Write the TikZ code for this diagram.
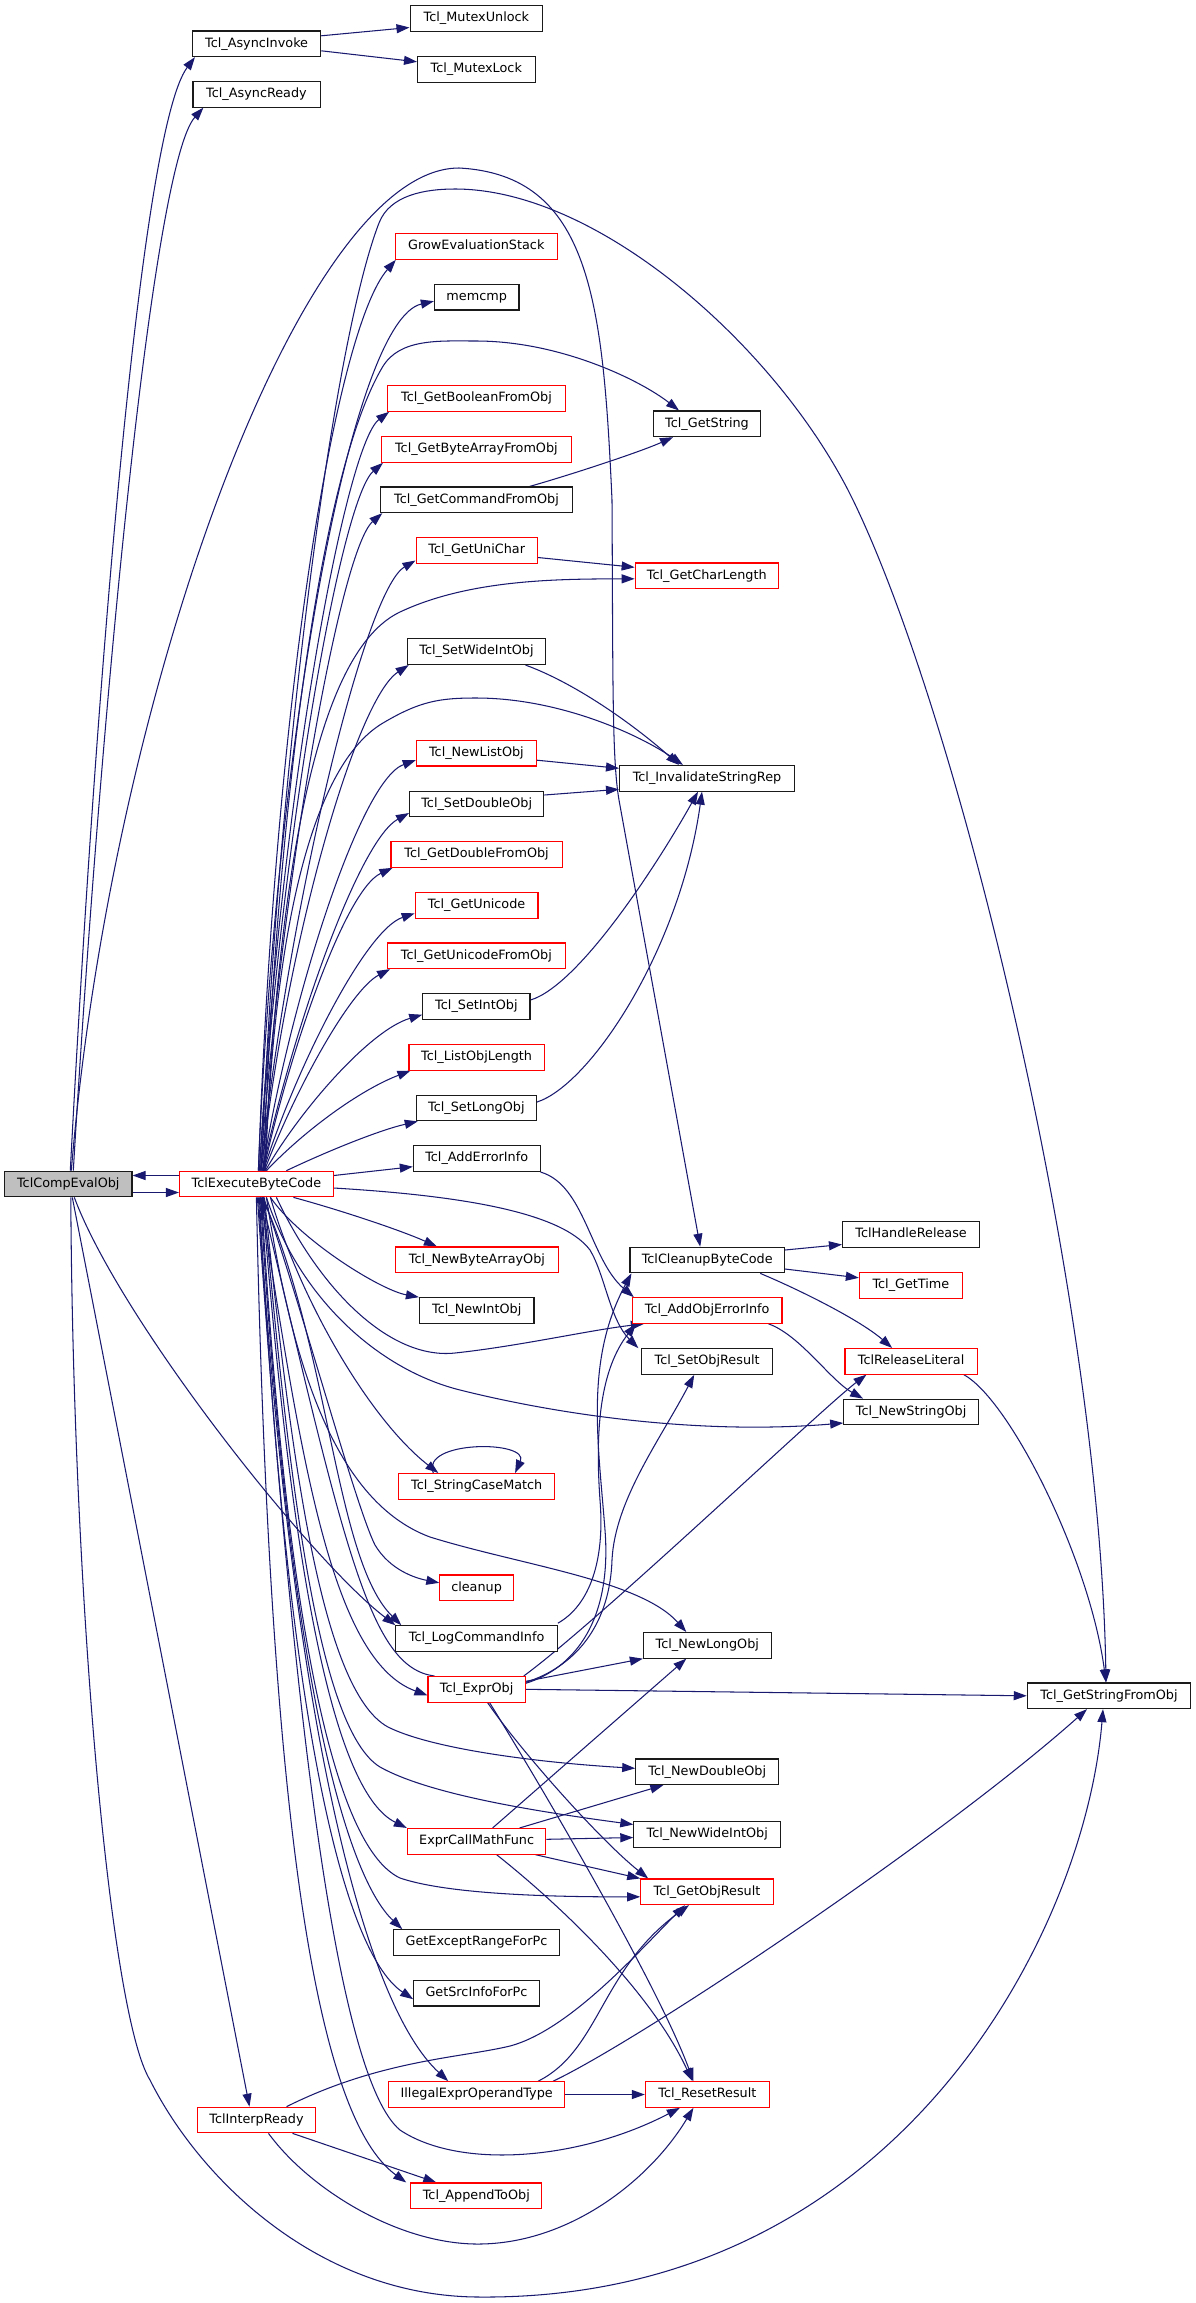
\documentclass[tikz,border=0pt]{standalone}
\usepackage{fontspec}
\setmainfont{DejaVu Sans}
\usetikzlibrary{arrows.meta,backgrounds}
\definecolor{edgeblue}{HTML}{191970}
\definecolor{nodered}{HTML}{FF0000}
\definecolor{nodegrey}{HTML}{BFBFBF}
\definecolor{nodeblack}{HTML}{1A1A1A}
\begin{document}
\begin{tikzpicture}[x=1pt,y=-1pt,
  bbox/.style={draw=nodeblack, line width=1.1pt, fill=white, minimum height=25.6pt,
    inner xsep=2pt, inner ysep=0pt, text height=9.4pt, text depth=3pt,
    font=\fontsize{12.8pt}{15pt}\selectfont, anchor=center},
  rbox/.style={bbox, draw=nodered},
  gbox/.style={bbox, fill=nodegrey},
  edge/.style={draw=edgeblue, line width=1.05pt, -{Triangle[length=13pt,width=9pt]}}]
\useasboundingbox (0,0) rectangle (1196,2303);
% column 0 and 1
\node[gbox, minimum width=127.4pt] (cmp) at (68.3,1184) {TclCompEvalObj};
\node[rbox, minimum width=153.8pt] (exe) at (256.4,1184) {TclExecuteByteCode};
\node[bbox, minimum width=128.2pt] (ainv) at (256.6,43.8) {Tcl\_AsyncInvoke};
\node[bbox, minimum width=127.1pt] (ardy) at (256.5,94.3) {Tcl\_AsyncReady};
\node[rbox, minimum width=118.5pt] (irdy) at (256.5,2120) {TclInterpReady};
% column 2
\node[bbox, minimum width=132.7pt] (mu) at (476.4,18.5) {Tcl\_MutexUnlock};
\node[bbox, minimum width=117.5pt] (ml) at (476.3,69.3) {Tcl\_MutexLock};
\node[rbox, minimum width=161.9pt] (grow) at (476.3,246.5) {GrowEvaluationStack};
\node[bbox, minimum width=84.6pt] (memcmp) at (476.7,297.2) {memcmp};
\node[rbox, minimum width=177.6pt] (gbool) at (476.5,398.5) {Tcl\_GetBooleanFromObj};
\node[rbox, minimum width=189.8pt] (gba) at (476.4,449.5) {Tcl\_GetByteArrayFromObj};
\node[bbox, minimum width=191.3pt] (gcmd) at (476.5,499.8) {Tcl\_GetCommandFromObj};
\node[rbox, minimum width=121.3pt] (guc) at (476.7,550.5) {Tcl\_GetUniChar};
\node[bbox, minimum width=138.5pt] (swi) at (476.5,651.7) {Tcl\_SetWideIntObj};
\node[rbox, minimum width=120.2pt] (nl) at (476.4,753.2) {Tcl\_NewListObj};
\node[bbox, minimum width=134.3pt] (sd) at (476.7,804) {Tcl\_SetDoubleObj};
\node[rbox, minimum width=171.2pt] (gd) at (476.6,854.5) {Tcl\_GetDoubleFromObj};
\node[rbox, minimum width=122.8pt] (gu) at (476.6,905.3) {Tcl\_GetUnicode};
\node[rbox, minimum width=177.6pt] (guo) at (476.4,955.8) {Tcl\_GetUnicodeFromObj};
\node[bbox, minimum width=107.2pt] (si) at (476.4,1006.7) {Tcl\_SetIntObj};
\node[rbox, minimum width=135.2pt] (lol) at (476.6,1057.3) {Tcl\_ListObjLength};
\node[bbox, minimum width=120.2pt] (sl) at (476.4,1108) {Tcl\_SetLongObj};
\node[bbox, minimum width=126.7pt] (aei) at (476.7,1158.7) {Tcl\_AddErrorInfo};
\node[rbox, minimum width=163.1pt] (nba) at (476.9,1259.8) {Tcl\_NewByteArrayObj};
\node[bbox, minimum width=114.5pt] (nint) at (476.7,1310.5) {Tcl\_NewIntObj};
\node[rbox, minimum width=155.7pt] (scm) at (476.7,1486.3) {Tcl\_StringCaseMatch};
\node[rbox, minimum width=73.5pt] (cl) at (476.6,1587.8) {cleanup};
\node[bbox, minimum width=161.5pt] (lci) at (476.6,1638.5) {Tcl\_LogCommandInfo};
\node[rbox, minimum width=97.2pt] (eo) at (476.6,1689.3) {Tcl\_ExprObj};
\node[rbox, minimum width=138.5pt] (ecmf) at (476.6,1841.3) {ExprCallMathFunc};
\node[bbox, minimum width=165.4pt] (ger) at (476.5,1942.5) {GetExceptRangeForPc};
\node[bbox, minimum width=125.6pt] (gsi) at (476.5,1993.2) {GetSrcInfoForPc};
\node[rbox, minimum width=175.8pt] (iex) at (476.7,2094.5) {IllegalExprOperandType};
\node[rbox, minimum width=131pt] (ato) at (476.3,2195.8) {Tcl\_AppendToObj};
% column 3
\node[bbox, minimum width=107.1pt] (gs) at (707,423.8) {Tcl\_GetString};
\node[rbox, minimum width=143.2pt] (gcl) at (706.8,575.8) {Tcl\_GetCharLength};
\node[bbox, minimum width=174.9pt] (inv) at (707,778.3) {Tcl\_InvalidateStringRep};
\node[bbox, minimum width=154.4pt] (tcbc) at (707.2,1260) {TclCleanupByteCode};
\node[rbox, minimum width=149.6pt] (aoei) at (707.2,1310.5) {Tcl\_AddObjErrorInfo};
\node[bbox, minimum width=130.6pt] (sor) at (707.2,1361.5) {Tcl\_SetObjResult};
\node[bbox, minimum width=127.8pt] (nlo) at (707.3,1645.3) {Tcl\_NewLongObj};
\node[bbox, minimum width=143.1pt] (ndo) at (707.3,1771.8) {Tcl\_NewDoubleObj};
\node[bbox, minimum width=146.9pt] (nwi) at (707.3,1834.5) {Tcl\_NewWideIntObj};
\node[rbox, minimum width=132.5pt] (gor) at (707,1891.8) {Tcl\_GetObjResult};
\node[rbox, minimum width=124pt] (rr) at (707.4,2094.5) {Tcl\_ResetResult};
% column 4 and 5
\node[bbox, minimum width=137.2pt] (thr) at (911.1,1234.5) {TclHandleRelease};
\node[rbox, minimum width=103pt] (gt) at (910.9,1285.3) {Tcl\_GetTime};
\node[rbox, minimum width=132.3pt] (trl) at (911.1,1361.3) {TclReleaseLiteral};
\node[bbox, minimum width=134.7pt] (nso) at (911.1,1412) {Tcl\_NewStringObj};
\node[bbox, minimum width=163.4pt] (gsfo) at (1109,1695.8) {Tcl\_GetStringFromObj};

\begin{scope}[on background layer]
\fill[white] (0,0) rectangle (1196,2303);
% TclCompEvalObj
\draw[edge] ([xshift=2pt]cmp.north) .. controls (95,700) and (140,130) .. ([xshift=3pt]ainv.south west);
\draw[edge] ([xshift=5pt]cmp.north) .. controls (100,720) and (152,165) .. ([xshift=11pt]ardy.south west);
\draw[edge] ([yshift=-8.5pt]cmp.east) -- ([yshift=-8.5pt]exe.west);
\draw[edge] ([yshift=8.5pt]exe.west) -- ([yshift=8.5pt]cmp.east);
\draw[edge] ([xshift=4pt]cmp.south) -- ([xshift=-7pt]irdy.north);
\draw[edge] ([xshift=6pt]cmp.south) .. controls (120,1320) and (310,1560) .. (lci.north west);
\draw[edge] ([xshift=2.5pt]cmp.south) .. controls (73,1600) and (110,2015) .. (150,2080) .. controls (200,2180) and (320,2297) .. (480,2297) .. controls (900,2300) and (1085,1930) .. ([xshift=-6pt]gsfo.south);
\draw[edge] ([xshift=3pt]cmp.north) .. controls (110,700) and (300,168) .. (459,168) .. controls (590,175) and (603,300) .. (612,500) .. controls (613,680) and (612,760) .. (619,800) -- ([xshift=-7pt]tcbc.north);
% TclExecuteByteCode, upward
\draw[edge] ([xshift=5pt]exe.north) .. controls (275,800) and (330,350) .. (379,223) .. controls (389.8,195) and (425,189) .. (455,189) .. controls (600,189) and (780,350) .. (853,500) .. controls (960,720) and (1100,1300) .. ([xshift=-3pt]gsfo.north);
\draw[edge] ([xshift=7pt]exe.north) .. controls (275,850) and (315,480) .. (382.7,366.7) .. controls (400,338) and (440,341) .. (476,341) .. controls (560,341) and (640,380) .. ([xshift=-28pt]gs.north);
\draw[edge] ([xshift=9pt]exe.north) .. controls (275,900) and (320,760) .. (383,723) .. controls (420,701) and (440,698) .. (476,698) .. controls (560,698) and (640,735) .. ([xshift=-24pt]inv.north);
\draw[edge] ([xshift=8pt]exe.north) .. controls (280,850) and (320,650) .. (400,612) .. controls (470,579) and (560,579) .. ([yshift=-3pt]gcl.west);
\draw[edge] ([xshift=2pt]exe.north) .. controls (275,700) and (335,330) .. ([xshift=1pt]grow.south west);
\draw[edge] ([xshift=2pt]exe.north) .. controls (275,750) and (350,320) .. ([yshift=-4pt]memcmp.west);
\draw[edge] ([xshift=3pt]exe.north) .. controls (280,800) and (345,445) .. ([xshift=2pt]gbool.south west);
\draw[edge] ([xshift=3pt]exe.north) .. controls (280,850) and (340,500) .. ([xshift=2pt]gba.south west);
\draw[edge] ([xshift=4pt]exe.north) .. controls (282,880) and (340,550) .. ([xshift=2pt]gcmd.south west);
\draw[edge] ([xshift=4pt]exe.north) .. controls (290,900) and (365,590) .. ([yshift=-10pt]guc.west);
\draw[edge] ([xshift=5pt]exe.north) .. controls (285,950) and (355,700) .. ([xshift=2pt]swi.south west);
\draw[edge] ([xshift=6pt]exe.north) .. controls (290,1000) and (360,780) .. ([yshift=-7pt]nl.west);
\draw[edge] ([xshift=6pt]exe.north) .. controls (295,1020) and (360,840) .. ([yshift=-9pt]sd.west);
\draw[edge] ([xshift=7pt]exe.north) .. controls (290,1050) and (345,890) .. ([xshift=2pt]gd.south west);
\draw[edge] ([xshift=7pt]exe.north) .. controls (295,1070) and (365,930) .. ([yshift=-8pt]gu.west);
\draw[edge] ([xshift=8pt]exe.north) .. controls (295,1090) and (350,990) .. ([xshift=3pt]guo.south west);
\draw[edge] ([xshift=9pt]exe.north) .. controls (300,1110) and (370,1030) .. ([yshift=-8pt]si.west);
\draw[edge] ([xshift=10pt]exe.north) .. controls (305,1130) and (360,1090) .. ([xshift=2pt]lol.south west);
\draw[edge] ([xshift=30pt]exe.north) .. controls (330,1150) and (380,1130) .. ([xshift=2pt]sl.south west);
\draw[edge] ([yshift=8.5pt]exe.east) -- ([yshift=-8pt]aei.west);
% TclExecuteByteCode, rightward and downward
\draw[edge] ([yshift=-4pt]exe.east) .. controls (450,1195) and (560,1210) .. (590,1250) .. controls (605,1275) and (610,1320) .. ([xshift=-3pt]sor.north west);
\draw[edge] ([xshift=37pt]exe.south) .. controls (340,1210) and (400,1230) .. ([xshift=-40pt]nba.north);
\draw[edge] ([xshift=14pt]exe.south) .. controls (300,1240) and (380,1290) .. (nint.north west);
\draw[edge] ([xshift=20pt]exe.south) .. controls (320,1290) and (390,1360) .. (455,1353) .. controls (520,1346) and (590,1330) .. ([xshift=12pt]aoei.south west);
\draw[edge] ([xshift=10pt]exe.south) .. controls (300,1300) and (380,1370) .. (460,1390) .. controls (560,1415) and (700,1435) .. ([yshift=-11pt]nso.west);
\draw[edge] ([xshift=14pt]exe.south) .. controls (300,1300) and (370,1420) .. ([xshift=40pt]scm.north west);
\draw[edge] ([xshift=35pt]scm.north west) .. controls (420,1440) and (530,1440) .. ([xshift=-40pt]scm.north east);
\draw[edge] ([xshift=7pt]exe.south) .. controls (300,1300) and (355,1505) .. (375,1545) .. controls (390,1570) and (415,1578) .. ([yshift=5pt]cl.west);
\draw[edge] ([xshift=6pt]exe.south) .. controls (330,1350) and (335,1560) .. ([xshift=6pt]lci.north west);
\draw[edge] ([xshift=4pt]exe.south) .. controls (300,1450) and (330,1660) .. ([yshift=-6pt]eo.west);
\draw[edge] ([xshift=7pt]eo.north west) .. controls (370,1668) and (345,1550) .. ([xshift=5pt]exe.south);
\draw[edge] ([xshift=10pt]exe.south) .. controls (290,1350) and (330,1500) .. (430,1537) .. controls (520,1565) and (640,1580) .. ([xshift=-21pt]nlo.north);
\draw[edge] ([xshift=8pt]exe.south) .. controls (290,1450) and (320,1690) .. (388,1727) .. controls (430,1748) and (530,1762) .. ([yshift=3.5pt]ndo.west);
\draw[edge] ([xshift=7pt]exe.south) .. controls (290,1500) and (320,1730) .. (380,1767) .. controls (430,1795) and (540,1812) .. ([yshift=10pt]nwi.west);
\draw[edge] ([xshift=6pt]exe.south) .. controls (290,1550) and (330,1790) .. (ecmf.north west);
\draw[edge] ([xshift=5pt]exe.south) .. controls (285,1600) and (330,1845) .. (400,1878) .. controls (450,1895) and (560,1897) .. ([yshift=-5pt]gor.west);
\draw[edge] ([xshift=4pt]exe.south) .. controls (290,1700) and (350,1880) .. ([xshift=9pt]ger.north west);
\draw[edge] ([xshift=3pt]exe.south) .. controls (285,1700) and (340,1950) .. ([yshift=-6pt]gsi.west);
\draw[edge] ([xshift=2pt]exe.south) .. controls (290,1700) and (360,2000) .. ([xshift=60pt]iex.north west);
\draw[edge] ([xshift=1pt]exe.south) .. controls (295,1750) and (340,2080) .. (400,2130) .. controls (460,2170) and (580,2160) .. ([xshift=35pt]rr.south west);
\draw[edge] (exe.south) .. controls (270,1850) and (320,2120) .. ([xshift=-4pt]ato.north west);
% column 1 and 2 callees
\draw[edge] ([yshift=8pt]ainv.east) -- ([yshift=-9pt]mu.west);
\draw[edge] ([yshift=-7pt]ainv.east) -- ([yshift=7.5pt]ml.west);
\draw[edge] ([xshift=53pt]gcmd.north) .. controls (570,475) and (640,452) .. ([xshift=-34pt]gs.south);
\draw[edge] ([yshift=-7pt]guc.east) -- ([yshift=8.5pt]gcl.west);
\draw[edge] ([xshift=49pt]swi.south) .. controls (580,685) and (640,730) .. ([xshift=-28pt]inv.north);
\draw[edge] ([yshift=-7pt]nl.east) -- ([yshift=10pt]inv.west);
\draw[edge] ([yshift=9pt]sd.east) -- ([yshift=-11pt]inv.west);
\draw[edge] ([yshift=6.7pt]si.east) .. controls (580,985) and (660,860) .. ([xshift=-9pt]inv.south);
\draw[edge] ([yshift=6pt]sl.east) .. controls (590,1085) and (680,950) .. ([xshift=-5pt]inv.south);
\draw[edge] (aei.south east) .. controls (585,1185) and (590,1260) .. ([xshift=2pt]aoei.north west);
\draw[edge] ([yshift=2pt]lci.north east) .. controls (590,1605) and (605,1560) .. (600,1500) .. controls (595,1430) and (600,1370) .. ([xshift=4pt]aoei.south west);
% Tcl_ExprObj
\draw[edge] ([yshift=6pt]eo.east) .. controls (575,1668) and (612,1620) .. (605,1530) .. controls (598,1440) and (585,1360) .. ([xshift=2pt]tcbc.south west);
\draw[edge] ([yshift=7pt]eo.east) .. controls (580,1665) and (610,1620) .. (612,1560) .. controls (615,1500) and (660,1440) .. ([xshift=-13pt]sor.south);
\draw[edge] ([xshift=-2pt]eo.north east) .. controls (600,1620) and (820,1410) .. ([xshift=22pt]trl.south west);
\draw[edge] ([yshift=8pt]eo.east) -- (nlo.south west);
\draw[edge] (eo.east) -- (gsfo.west);
\draw[edge] ([xshift=11pt]eo.south) .. controls (520,1750) and (600,1840) .. ([xshift=8pt]gor.north west);
\draw[edge] ([xshift=13pt]eo.south) .. controls (550,1800) and (660,1990) .. ([xshift=-14pt]rr.north);
% ExprCallMathFunc
\draw[edge] ([xshift=16pt]ecmf.north) -- ([xshift=-21pt]nlo.south);
\draw[edge] ([xshift=43pt]ecmf.north) -- ([xshift=-44pt]ndo.south);
\draw[edge] ([yshift=2pt]ecmf.east) -- ([yshift=-3pt]nwi.west);
\draw[edge] ([xshift=-11pt]ecmf.south east) -- (gor.north west);
\draw[edge] ([xshift=20pt]ecmf.south) .. controls (560,1905) and (650,1990) .. ([xshift=-15pt]rr.north);
% IllegalExprOperandType
\draw[edge] (iex.east) -- (rr.west);
\draw[edge] ([xshift=-27pt]iex.north east) .. controls (600,2050) and (600,1970) .. ([xshift=-18pt]gor.south);
\draw[edge] ([xshift=-12pt]iex.north east) .. controls (640,2040) and (940,1840) .. ([xshift=-22pt]gsfo.south);
% TclInterpReady
\draw[edge] ([xshift=30pt]irdy.north) .. controls (380,2060) and (460,2058) .. (510,2046) .. controls (570,2030) and (640,1950) .. ([xshift=-22pt]gor.south);
\draw[edge] ([xshift=36pt]irdy.south) -- ([xshift=-40pt]ato.north);
\draw[edge] ([xshift=12pt]irdy.south) .. controls (310,2190) and (400,2245) .. (480,2244) .. controls (570,2243) and (650,2180) .. ([xshift=-14pt]rr.south);
% column 3 callees
\draw[edge] ([yshift=10pt]tcbc.east) -- ([yshift=-10pt]thr.west);
\draw[edge] ([yshift=-9pt]tcbc.east) -- ([yshift=7.5pt]gt.west);
\draw[edge] ([xshift=53pt]tcbc.south) .. controls (800,1290) and (860,1320) .. ([xshift=-19pt]trl.north);
\draw[edge] ([xshift=-14pt]aoei.south east) .. controls (800,1335) and (830,1380) .. ([xshift=-48pt]nso.north);
\draw[edge] ([xshift=-14pt]trl.south east) .. controls (1010,1400) and (1090,1560) .. ([xshift=-3pt]gsfo.north);
\end{scope}
\end{tikzpicture}
\end{document}
